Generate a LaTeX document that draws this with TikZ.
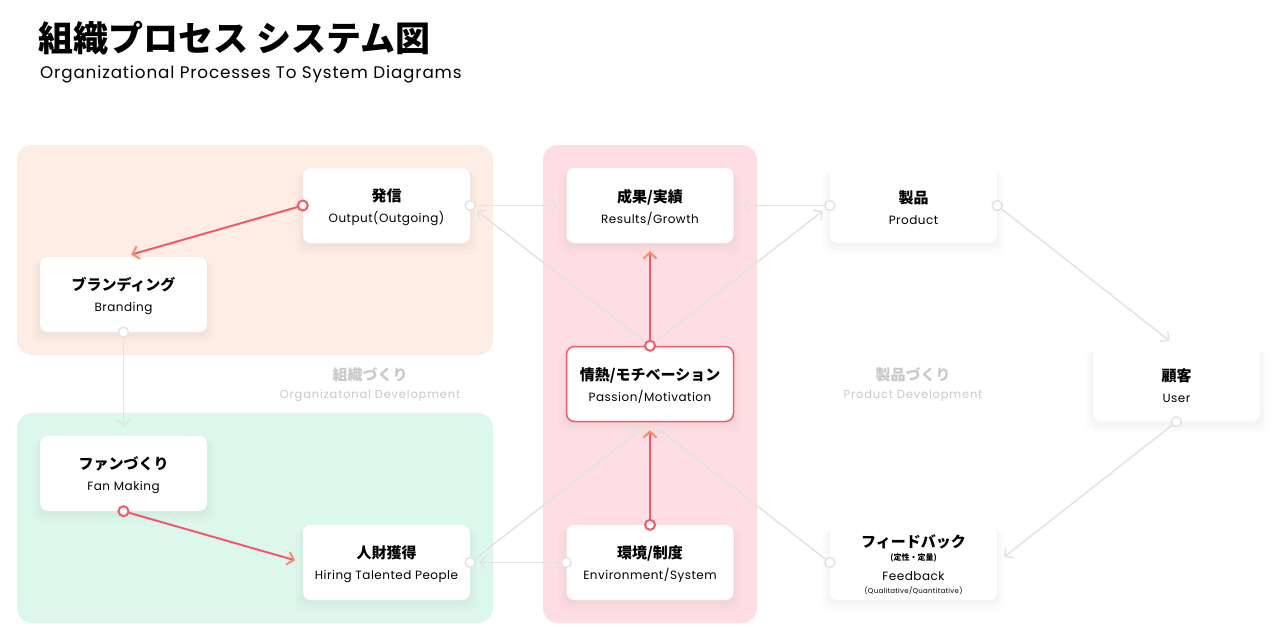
\documentclass[tikz,border=0pt]{standalone}
\usepackage{fontspec}
\setmainfont{Poppins}
\newfontfamily\jpfont{Noto Sans CJK JP}
\usetikzlibrary{arrows.meta,shadows}

\definecolor{peach}{HTML}{FDEDE5}
\definecolor{mint}{HTML}{DCF8EC}
\definecolor{blush}{HTML}{FEDEE2}
\definecolor{linegray}{HTML}{E3E3E3}
\definecolor{hotred}{HTML}{F4596A}
\definecolor{hotorange}{HTML}{FF8A68}
\definecolor{labelgray}{HTML}{C9C9C9}

\newcommand\jpb{\jpfont\bfseries}
\newcommand\spaced{\addfontfeatures{LetterSpace=4}}
\newcommand\cardhead[1]{{\rule{0pt}{17pt}\jpb\fontsize{15}{16}\selectfont #1}}

\begin{document}
\begin{tikzpicture}[x=1pt,y=-1pt,
  card/.style={rectangle,rounded corners=8pt,fill=white,minimum width=167pt,
    minimum height=75pt,inner sep=0pt,align=center,
    font=\fontsize{12}{16}\selectfont\spaced,
    drop shadow={opacity=0.025,shadow xshift=0pt,shadow yshift=-7pt,shadow scale=1.09},
    drop shadow={opacity=0.03,shadow xshift=0pt,shadow yshift=-5pt,shadow scale=1.05},
    drop shadow={opacity=0.03,shadow xshift=0pt,shadow yshift=-3pt,shadow scale=1.02}},
  panel/.style={rounded corners=15pt},
  flow/.style={draw=linegray,line width=1.5pt,shorten >=9pt,
    -{Straight Barb[length=6pt,width=13pt,line width=1.5pt]}},
  hot/.style={draw=hotred,line width=2pt,shorten >=8pt,
    -{Straight Barb[length=6pt,width=13pt,line width=2pt,color=hotorange]}},
  graydot/.style={draw=linegray,line width=1.5pt,fill=white},
  hotdot/.style={draw=hotred,line width=2pt,fill=white}]
\fill[white] (0,0) rectangle (1280,640);
\useasboundingbox (0,0) rectangle (1280,640);

% title
\node[anchor=west,inner sep=0pt] (title) at (38,38) {\jpb\fontsize{35}{35}\selectfont 組織プロセス システム図};
\node[anchor=west,inner sep=0pt] (subtitle) at (40,74) {\fontsize{16.8}{17}\selectfont\addfontfeatures{LetterSpace=5}Organizational Processes To System Diagrams};

% panels
\fill[panel,peach] (17,145) rectangle (493,355);
\fill[panel,mint] (17,413) rectangle (493,623);
\fill[panel,blush] (543,145) rectangle (757,623);

\node[labelgray,align=center] (orglabel) at (370,385)
  {{\jpb\fontsize{15}{16}\selectfont 組織づくり}\\[6pt]{\fontsize{11.5}{16}\selectfont\addfontfeatures{LetterSpace=7}Organizatonal Development}};
\node[labelgray,align=center] (prodlabel) at (913,385)
  {{\jpb\fontsize{15}{16}\selectfont 製品づくり}\\[6pt]{\fontsize{11.5}{16}\selectfont\addfontfeatures{LetterSpace=7}Product Development}};

% cards
\node[card] (out) at (386.5,205.5) {\cardhead{発信}\\[5pt]Output(Outgoing)};
\node[card] (bran) at (123.5,294.5) {\cardhead{ブランディング}\\[5pt]Branding};
\node[card] (res) at (650,205.5) {\cardhead{成果/実績}\\[5pt]Results/Growth};
\node[card] (prod) at (913.5,205.5) {\cardhead{製品}\\[5pt]Product};
\node[card,draw=hotred,line width=1.5pt] (pas) at (650,384) {\cardhead{情熱/モチベーション}\\[5pt]Passion/Motivation};
\node[card] (user) at (1176.5,384) {\cardhead{顧客}\\[5pt]User};
\node[card] (fan) at (123.5,473.5) {\cardhead{ファンづくり}\\[5pt]Fan Making};
\node[card] (hire) at (386.5,562.5) {\cardhead{人財獲得}\\[5pt]Hiring Talented People};
\node[card] (env) at (650,562.5) {\cardhead{環境/制度}\\[5pt]Environment/System};
\node[card] (fb) at (913.5,562.5) {\cardhead{フィードバック}\\[-3pt]
  {\jpb\fontsize{8}{10}\selectfont (定性・定量)}\\[4pt]Feedback\\[-3pt]
  {\fontsize{7}{9}\selectfont (Qualitative/Quantitative)}};

% gray connectors
\draw[flow] (out.east) -- (res.west);
\draw[flow] (prod.west) -- (res.east);
\draw[flow] (pas.north) -- (out.east);
\draw[flow] (pas.north) -- (prod.west);
\draw[flow] (prod.east) -- (user.north);
\draw[flow] (user.south) -- (fb.east);
\draw[flow] (fb.west) -- (pas.south);
\draw[flow] (hire.east) -- (pas.south);
\draw[flow] (env.west) -- (hire.east);
\draw[flow] (bran.south) -- (fan.north);

% red connectors
\draw[hot] (out.west) -- (bran.north);
\draw[hot] (pas.north) -- (res.south);
\draw[hot] (env.north) -- (pas.south);
\draw[hot] (fan.south) -- (hire.west);

% end dots
\foreach \a in {out.east,prod.west,prod.east,user.south,fb.west,hire.east,env.west,bran.south}
  \draw[graydot] (\a) circle (5pt);
\foreach \a in {out.west,pas.north,env.north,fan.south}
  \draw[hotdot] (\a) circle (5pt);
\end{tikzpicture}
\end{document}
